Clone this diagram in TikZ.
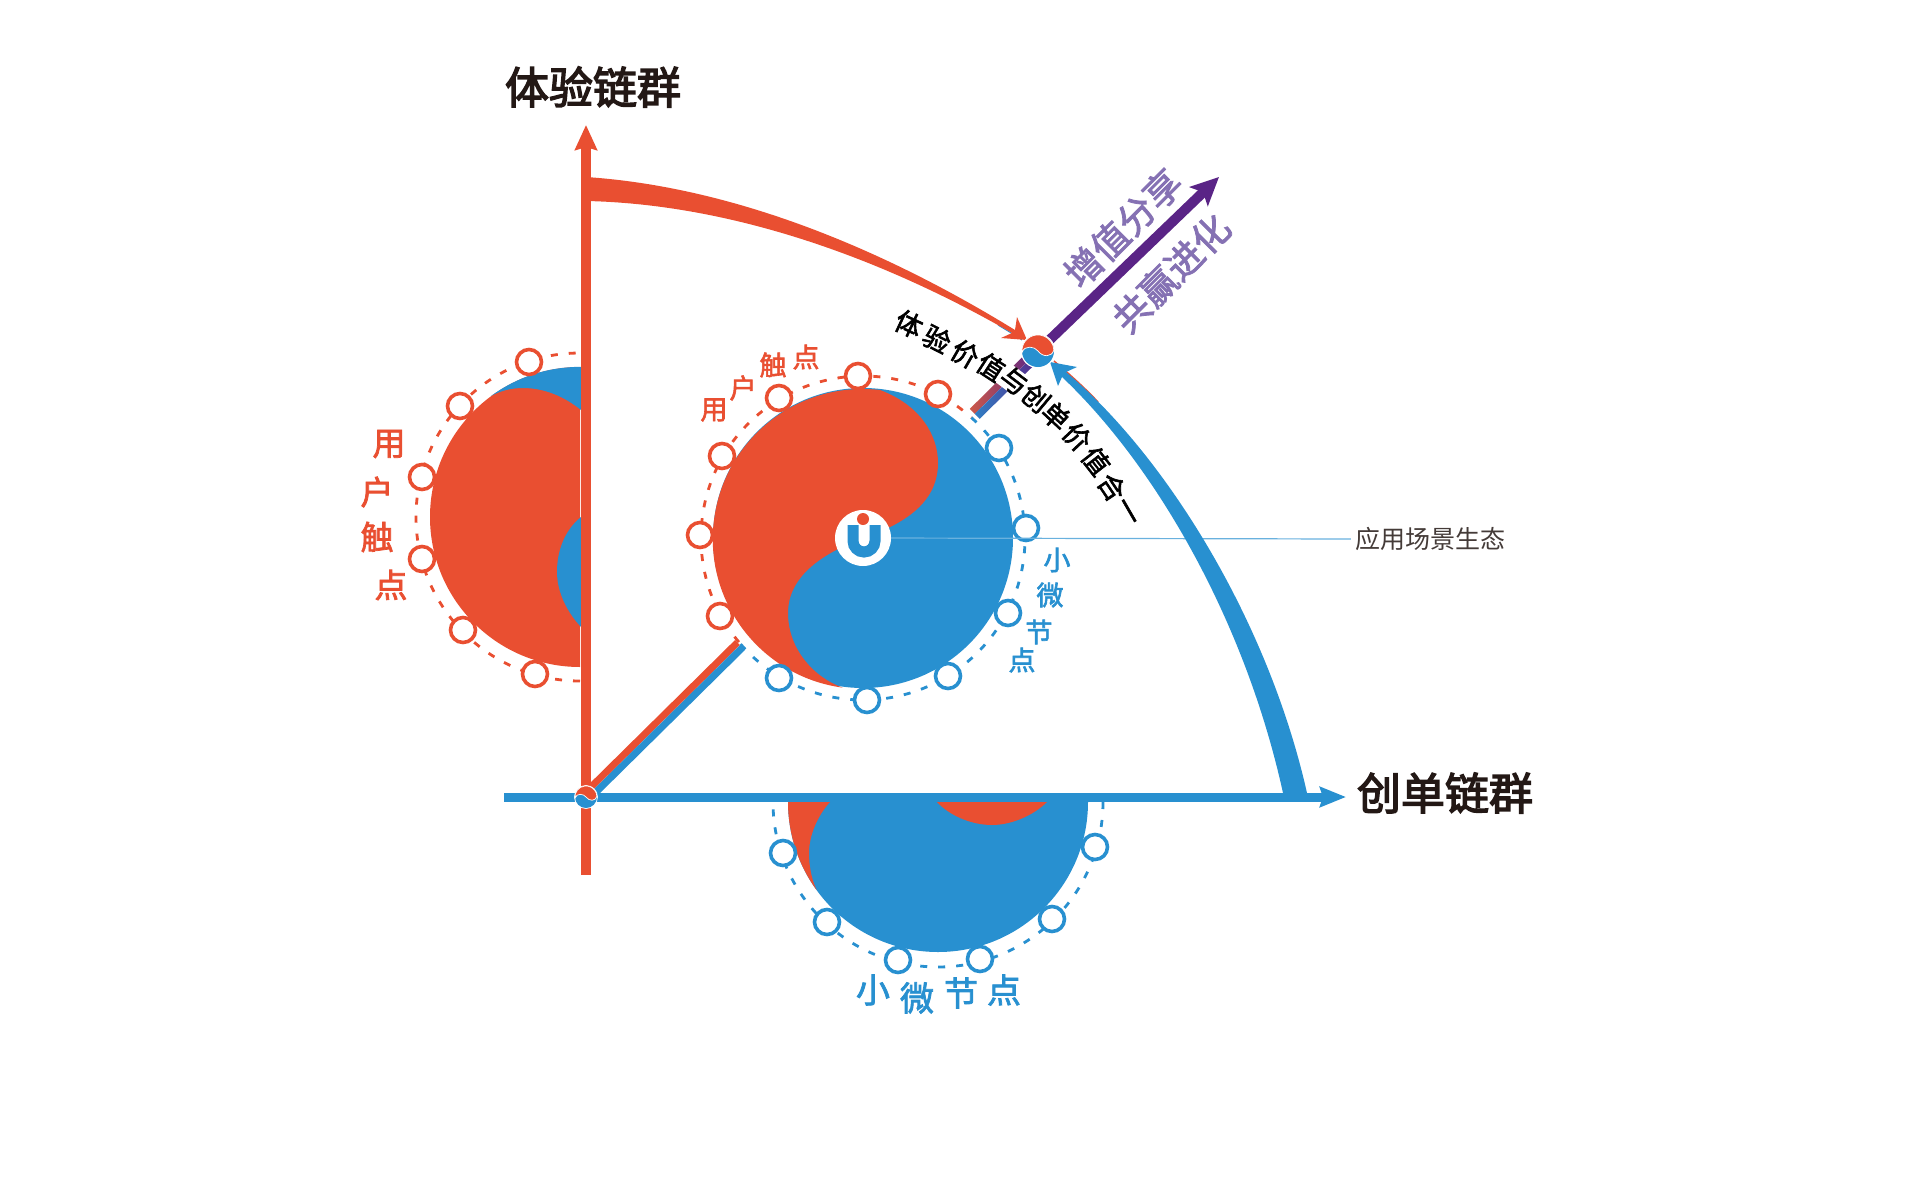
\documentclass[tikz,border=0pt]{standalone}
\usepackage{fontspec}
\setmainfont{Noto Sans CJK SC}
\newfontfamily\tjmid[FakeBold=2.2]{Noto Sans CJK SC}
\newfontfamily\tjheavy[FakeBold=3.2]{Noto Sans CJK SC}
\usepackage{tikz}
\usetikzlibrary{positioning,arrows.meta}

\definecolor{tjred}{HTML}{E94F31}
\definecolor{tjblue}{HTML}{2890D0}
\definecolor{tjpurple}{HTML}{5A2486}
\definecolor{tjlilac}{HTML}{8571B3}
\definecolor{tjink}{HTML}{231815}

\tikzset{
  hub/.style={circle, inner sep=0pt, minimum size=#1},
  redtouch/.style={circle, draw=tjred, fill=white, line width=3.6pt, inner sep=0pt, minimum size=25pt},
  bluetouch/.style={circle, draw=tjblue, fill=white, line width=3.6pt, inner sep=0pt, minimum size=25pt},
  redring/.style={draw=tjred, line width=2.8pt, dash pattern=on 7pt off 11pt},
  bluering/.style={draw=tjblue, line width=2.8pt, dash pattern=on 7pt off 11pt},
  chaintitle/.style={text=tjink, font=\fontsize{44}{44}\tjheavy},
  seam/.style={text=black, inner sep=0pt, font=\fontsize{27}{27}\tjmid},
  gain/.style={text=tjlilac, font=\fontsize{37}{37}\tjmid},
  redsmall/.style={text=tjred, inner sep=0pt, font=\fontsize{27}{27}\tjmid},
  bluesmall/.style={text=tjblue, inner sep=0pt, font=\fontsize{27}{27}\tjmid},
  redbig/.style={text=tjred, inner sep=0pt, font=\fontsize{33}{33}\tjmid},
  bluebig/.style={text=tjblue, inner sep=0pt, font=\fontsize{34}{34}\tjmid},
  pics/minitaiji/.style={code={
    \fill[white] (0,0) circle (1.08);
    \fill[tjblue] (0,0) circle (1);
    \filldraw[fill=tjred, draw=white, line width=0.7pt] (-1,0.1) arc[start angle=174, end angle=357, radius=1]
      .. controls (0.85,0.4) and (0.3,0.4) .. (0,0)
      .. controls (-0.2,-0.28) and (-0.85,-0.4) .. (-1,0.1) -- cycle;
  }}
}

\begin{document}
\begin{tikzpicture}[x=1pt, y=-1pt, on grid]
    \useasboundingbox (0,0) rectangle (1920,1183);

    \node[hub=56pt] (core) at (863,538) {};
    \node[hub=0pt] (leftcore) at (580,517) {};
    \node[hub=0pt] (botcore) at (938,802) {};
    \node[hub=22pt] (origin) at (586,797) {};
    \node[hub=32pt] (peak) at (1038,351) {};
    \coordinate (upfoot) at (586,875);
    \coordinate (uptip) at (586,125);
    \coordinate (rightfoot) at (504,797);
    \coordinate (righttip) at (1346,797);
    \coordinate (gaintip) at (1219,177);
    \coordinate (lowend) at (740,645);

    % discs
    \fill[tjblue] (core.center) circle (150);
    \fill[tjred] (880,390) arc[start angle=276.6, end angle=97.7, radius=150]
      .. controls (815,678) and (788,650) .. (788,613)
      .. controls (788,575) and (825,552) .. (864,538)
      .. controls (900,525) and (938,505) .. (938,463)
      .. controls (938,435) and (920,405) .. (880,390) -- cycle;

    \fill[tjred] (580,367) arc[start angle=270, end angle=90, radius=150] -- cycle;
    \fill[tjblue] (491,396) arc[start angle=233.7, end angle=270, radius=150] -- (581,367)
      -- (581,410) .. controls (565,397) and (545,388) .. (523,388)
      .. controls (511,388) and (500,391) .. (491,396) -- cycle;
    \fill[tjblue] (581,517) .. controls (565,530) and (557,550) .. (557,572)
      .. controls (557,592) and (567,612) .. (581,627) -- cycle;

    \fill[tjblue] (788,802) arc[start angle=180, end angle=0, radius=150] -- cycle;
    \fill[tjred] (788,802) arc[start angle=180, end angle=144, radius=150]
      .. controls (811,878) and (809,865) .. (809,853)
      .. controls (809,835) and (818,815) .. (830,802) -- cycle;
    \fill[tjred] (937,802) .. controls (950,816) and (972,825) .. (992,825)
      .. controls (1012,825) and (1034,815) .. (1047,802) -- cycle;

    % rings
    \draw[redring] ([shift={(140:162)}]core.center) arc[start angle=140, end angle=312, radius=162];
    \draw[bluering] ([shift={(-48:162)}]core.center) arc[start angle=-48, end angle=140, radius=162];
    \draw[redring] ([shift={(90:164)}]leftcore.center) arc[start angle=90, end angle=270, radius=164];
    \draw[bluering] ([shift={(0:165)}]botcore.center) arc[start angle=0, end angle=180, radius=165];

    \node[redtouch, above left=162pt and 5pt of core] (r1) {};
    \node[redtouch, above right=144pt and 75pt of core] (r2) {};
    \node[redtouch, above left=140pt and 84pt of core] (r3) {};
    \node[redtouch, above left=82pt and 141pt of core] (r4) {};
    \node[redtouch, above left=3pt and 163pt of core] (r5) {};
    \node[redtouch, below left=78pt and 143pt of core] (r6) {};
    \node[bluetouch, above right=90pt and 136pt of core] (b1) {};
    \node[bluetouch, above right=10pt and 163pt of core] (b2) {};
    \node[bluetouch, below right=75pt and 145pt of core] (b3) {};
    \node[bluetouch, below right=138pt and 85pt of core] (b4) {};
    \node[bluetouch, below right=162pt and 4pt of core] (b5) {};
    \node[bluetouch, below left=140pt and 84pt of core] (b6) {};

    \node[redtouch, above left=155pt and 51pt of leftcore] (lr1) {};
    \node[redtouch, above left=111pt and 120pt of leftcore] (lr2) {};
    \node[redtouch, above left=40pt and 158pt of leftcore] (lr3) {};
    \node[redtouch, below left=42pt and 158pt of leftcore] (lr4) {};
    \node[redtouch, below left=113pt and 117pt of leftcore] (lr5) {};
    \node[redtouch, below left=157pt and 45pt of leftcore] (lr6) {};

    \node[bluetouch, below left=51pt and 155pt of botcore] (bb1) {};
    \node[bluetouch, below left=120pt and 111pt of botcore] (bb2) {};
    \node[bluetouch, below left=158pt and 40pt of botcore] (bb3) {};
    \node[bluetouch, below right=157pt and 42pt of botcore] (bb4) {};
    \node[bluetouch, below right=117pt and 114pt of botcore] (bb5) {};
    \node[bluetouch, below right=45pt and 157pt of botcore] (bb6) {};

    % leader and logo
    \node[text=tjink!85, inner sep=4pt, font=\fontsize{25}{25}\selectfont] (scene) at (1430,539) {应用场景生态};
    \coordinate[right=17pt of core] (leader);
    \draw[line width=1.2pt, tjblue!70!white] (leader) -- (scene.west);
    \node[hub=56pt, fill=white] (logo) at (core.center) {};
    \fill[tjred] (863,519) circle (6);
    \draw[tjblue, line width=11pt] (853,525) -- (853,541) arc[start angle=180, end angle=0, radius=11] -- (875,525);

    % axes and bars
    \draw[tjred, line width=10pt, -{Stealth[length=25pt, width=22pt, inset=3pt]}] (upfoot) -- (uptip);
    \draw[tjblue, line width=9pt, -{Stealth[length=26pt, width=20pt, inset=3pt]}] (rightfoot) -- (righttip);
    \draw[tjred, line width=7pt] ([shift={(-2.5,-2.5)}]origin.center) -- ([shift={(-2.5,-2.5)}]lowend);
    \draw[tjblue, line width=7pt] ([shift={(2.5,2.5)}]origin.center) -- ([shift={(2.5,2.5)}]lowend);
    \node[inner sep=0pt, minimum width=85pt, minimum height=7pt, rotate=44.6, left color=tjred!85!tjblue, right color=tjpurple] (barred) at (1002.5,381.5) {};
    \node[inner sep=0pt, minimum width=85pt, minimum height=7pt, rotate=44.6, left color=tjblue!85!tjpurple, right color=tjpurple] (barblue) at (1007.5,386.5) {};
    \draw[tjpurple, line width=10pt, -{Stealth[length=28pt, width=26pt, inset=6pt]}] (peak) -- (gaintip);

    % tapered arcs
    \draw[tjblue, line width=1pt] (998,325) .. controls (1006,330) and (1015,335) .. (1022,340);
    \fill[tjred] (586,177) .. controls (735,187) and (885,250) .. (1015,330)
      -- (1017,317) -- (1027,340) -- (1001,338) -- (1012,333)
      .. controls (880,257) and (730,204) .. (586,201) -- cycle;
    \draw[tjred, line width=1.5pt] (1054,361) .. controls (1068,373) and (1084,387) .. (1098,402);
    \fill[tjblue] (1307,793) .. controls (1268,620) and (1165,455) .. (1066,372)
      -- (1077,367) -- (1050,362) -- (1058,386) -- (1062,377)
      .. controls (1155,465) and (1245,620) .. (1283,793) -- cycle;

    \path pic[scale=11] at (origin) {minitaiji};
    \path pic[scale=16] at (peak) {minitaiji};

    % titles
    \node[chaintitle] (uptitle) at (593,87) {体验链群};
    \node[chaintitle] (righttitle) at (1445,793) {创单链群};
    \node[gain, rotate=45] (gainup) at (1123,228) {增值分享};
    \node[gain, rotate=45] (gaindown) at (1171,273) {共赢进化};

    % seam text
    \node[seam, rotate=-25] (s1) at (909,324) {体};
    \node[seam, rotate=-27] (s2) at (937,339) {验};
    \node[seam, rotate=-30] (s3) at (965,354) {价};
    \node[seam, rotate=-33] (s4) at (991,367) {值};
    \node[seam, rotate=-37, fill=white] (s5) at (1014,381) {与};
    \node[seam, rotate=-40] (s6) at (1036,398) {创};
    \node[seam, rotate=-43] (s7) at (1056,416) {单};
    \node[seam, rotate=-47] (s8) at (1077,437) {价};
    \node[seam, rotate=-52] (s9) at (1096,461) {值};
    \node[seam, rotate=-56] (s10) at (1112,487) {合};
    \node[seam, rotate=-60] (s11) at (1125,513) {一};

    % touch labels
    \node[redsmall] (t1) at (714,410) {用};
    \node[redsmall] (t2) at (743,388) {户};
    \node[redsmall] (t3) at (773,365) {触};
    \node[redsmall] (t4) at (806,357) {点};
    \node[bluesmall] (u1) at (1057,560) {小};
    \node[bluesmall] (u2) at (1050,595) {微};
    \node[bluesmall] (u3) at (1039,632) {节};
    \node[bluesmall] (u4) at (1022,660) {点};
    \node[redbig] (l1) at (389,444) {用};
    \node[redbig] (l2) at (377,492) {户};
    \node[redbig] (l3) at (377,537) {触};
    \node[redbig] (l4) at (391,585) {点};
    \node[bluebig] (m1) at (873,990) {小};
    \node[bluebig] (m2) at (917,998) {微};
    \node[bluebig] (m3) at (961,993) {节};
    \node[bluebig] (m4) at (1004,990) {点};
\end{tikzpicture}
\end{document}
